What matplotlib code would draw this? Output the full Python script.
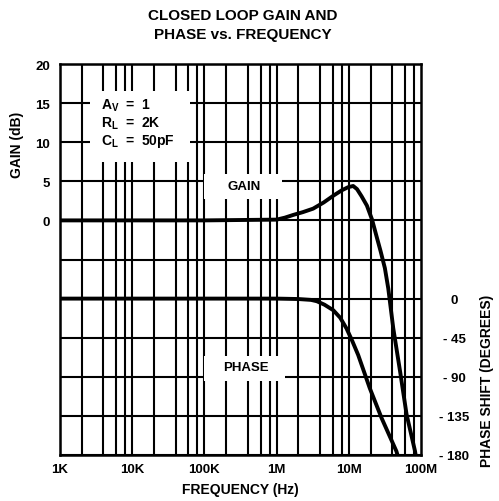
import numpy as np
import matplotlib
matplotlib.use("Agg")
import matplotlib.pyplot as plt
from matplotlib.patches import Rectangle

plt.rcParams['font.family'] = ['Liberation Sans', 'DejaVu Sans']
plt.rcParams['font.weight'] = 'bold'
plt.rcParams['mathtext.fontset'] = 'custom'
plt.rcParams['mathtext.rm'] = 'Liberation Sans:bold'
plt.rcParams['mathtext.it'] = 'Liberation Sans:bold'
plt.rcParams['mathtext.bf'] = 'Liberation Sans:bold'

# closed loop gain (dB) vs frequency (Hz)
gain_freq = [1e3, 1e5, 1e6, 1.3e6, 1.7e6, 2.3e6, 3.2e6, 4.5e6, 6.2e6, 8e6, 9.8e6,
             11.5e6, 13e6, 15e6, 17.8e6, 21e6, 24e6, 27.5e6, 31.6e6, 35.2e6,
             41.3e6, 51.3e6, 63.1e6, 82.6e6, 86e6]
gain_db = [0, 0, 0.1, 0.35, 0.7, 1.05, 1.5, 2.3, 3.2, 3.85, 4.25,
           4.4, 4.0, 3.1, 1.9, 0.1, -1.9, -3.9, -6.1, -8.7,
           -13.8, -19.3, -24.8, -29.5, -30.5]

# phase shift (degrees) vs frequency (Hz)
phase_freq = [1e3, 1e6, 2e6, 3e6, 3.6e6, 4.6e6, 6.1e6, 7.6e6, 9.3e6, 11.2e6, 13.5e6,
              19.5e6, 28.5e6, 45.7e6, 48e6]
phase_deg = [0, 0, -0.5, -1.5, -3, -7, -13.4, -22, -34.4, -49, -65,
             -103, -137.6, -175.8, -182]

x_ticks = [1e3, 1e4, 1e5, 1e6, 1e7, 1e8]
x_labels = ["1K", "10K", "100K", "1M", "10M", "100M"]
gain_ticks = [0, 5, 10, 15, 20]
phase_ticks = [0, -45, -90, -135, -180]
phase_labels = ["0", "- 45", "- 90", "- 135", "- 180"]

fig = plt.figure(figsize=(4.99, 5.02), dpi=100)
ax = fig.add_axes([60 / 499, 46 / 502, 361 / 499, 391 / 502])
ax.set_xscale('log')
ax.set_xlim(1e3, 1e8)
ax.set_ylim(-30, 20)

# graph-paper grid: decades plus 2,4,6,8 and every 5 dB
for dec in [1e3, 1e4, 1e5, 1e6, 1e7]:
    for m in [1, 2, 4, 6, 8]:
        ax.axvline(dec * m, color='black', lw=1.5, zorder=1)
for g in np.arange(-30, 21, 5):
    ax.axhline(g, color='black', lw=1.5, zorder=1)

# white label areas
ax.add_patch(Rectangle((0.083, 0.749), 0.277, 0.182, transform=ax.transAxes,
                       facecolor='white', edgecolor='none', zorder=2))
ax.add_patch(Rectangle((0.40, 0.655), 0.215, 0.064, transform=ax.transAxes,
                       facecolor='white', edgecolor='none', zorder=2))
ax.add_patch(Rectangle((0.40, 0.189), 0.222, 0.064, transform=ax.transAxes,
                       facecolor='white', edgecolor='none', zorder=2))

ax.text(0.113, 0.885, r"A$_\mathregular{V}$  =  1", transform=ax.transAxes,
        fontsize=10, va='baseline', zorder=3)
ax.text(0.113, 0.841, r"R$_\mathregular{L}$  =  2K", transform=ax.transAxes,
        fontsize=10, va='baseline', zorder=3)
ax.text(0.113, 0.795, r"C$_\mathregular{L}$  =  50pF", transform=ax.transAxes,
        fontsize=10, va='baseline', zorder=3)
ax.text(0.51, 0.689, "GAIN", transform=ax.transAxes, fontsize=9.5,
        ha='center', va='center', zorder=3)
ax.text(0.515, 0.225, "PHASE", transform=ax.transAxes, fontsize=9.5,
        ha='center', va='center', zorder=3)

ax.plot(gain_freq, gain_db, color='black', lw=2.8, zorder=4, clip_on=True)

ax.set_xticks(x_ticks)
ax.set_xticklabels(x_labels)
ax.xaxis.set_minor_locator(matplotlib.ticker.NullLocator())
ax.set_yticks(gain_ticks)
ax.tick_params(axis='both', length=0, labelsize=9.5)
ax.tick_params(axis='x', pad=6)
ax.tick_params(axis='y', pad=7)
for s in ax.spines.values():
    s.set_linewidth(1.8)

ax2 = ax.twinx()
ax2.set_ylim(-180, 270)
ax2.plot(phase_freq, phase_deg, color='black', lw=2.8, zorder=4)
ax2.set_yticks(phase_ticks)
ax2.set_yticklabels(phase_labels)
ax2.tick_params(axis='y', length=0, labelsize=9.5, pad=24)
for lab in ax2.get_yticklabels():
    lab.set_horizontalalignment('center')
for s in ax2.spines.values():
    s.set_visible(False)

fig.text(0.487, 1 - 16 / 502, "CLOSED LOOP GAIN AND", ha='center', va='center', fontsize=11)
fig.text(0.487, 1 - 35 / 502, "PHASE vs. FREQUENCY", ha='center', va='center', fontsize=11)
fig.text(240 / 499, 1 - 490 / 502, "FREQUENCY (Hz)", ha='center', va='center', fontsize=10)
fig.text(17 / 499, 1 - 145 / 502, "GAIN (dB)", ha='center', va='center', rotation=90, fontsize=10)
fig.text(487 / 499, 1 - 381 / 502, "PHASE SHIFT (DEGREES)", ha='center', va='center',
         rotation=90, fontsize=10)

fig.savefig("out.png", dpi=100)
